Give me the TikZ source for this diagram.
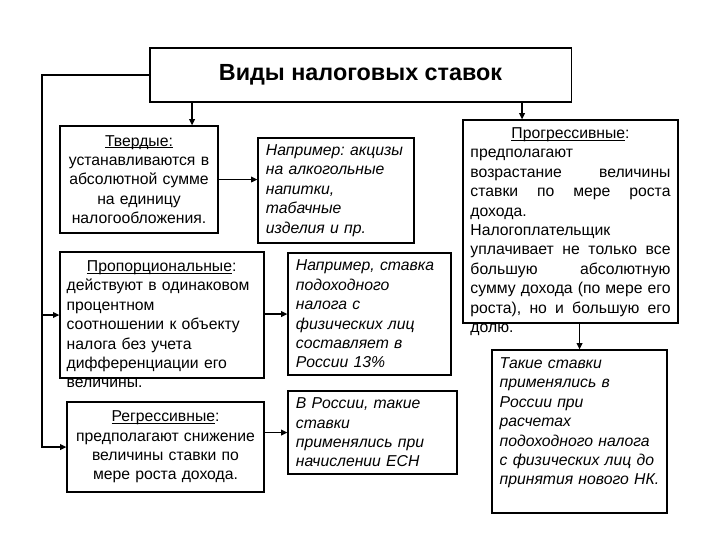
\documentclass[tikz,border=0pt]{standalone}
\usepackage{fontspec}
\setmainfont{Liberation Sans}
\usetikzlibrary{arrows.meta,positioning}
\hyphenpenalty=10000
\exhyphenpenalty=10000
\frenchspacing
\definecolor{ink}{RGB}{0,0,0}
\newcommand{\cardfont}{\fontsize{11.2}{13.8}\selectfont}
\newcommand{\uln}[1]{\setbox0\hbox{#1}\rlap{\rule[-1.6pt]{\wd0}{0.6pt}}\box0}
\newcommand{\headline}[1]{\hbox to\hsize{\hfil\uln{#1}:\hfil}\par}
\tikzset{
  >={Triangle[length=4.5pt,width=4pt]},
  card/.style={draw=ink,fill=white,line width=0.8pt,inner xsep=0.2cm,inner ysep=0pt,
    text width=#1,font=\cardfont},
  frame/.style={draw=ink,fill=white,line width=0.8pt,inner sep=0pt},
  note/.style={inner sep=0pt,text width=#1,font=\cardfont},
  link/.style={->,draw=ink,line width=1.4pt},
}

\begin{document}
\begin{tikzpicture}[x=0.025cm,y=-0.025cm]
  \useasboundingbox (0,0) rectangle (720,540);
  % header
  \node[frame,minimum width=10.525cm,minimum height=1.35cm,
    font=\fontsize{16.6}{19}\selectfont\bfseries] (title) at (360.5,75) {Виды налоговых ставок};
  % left column
  \node[card=3.55cm,align=center,minimum height=2.675cm] (tverd) at (139,179.5)
    {\uln{Твердые:}\\ устанавливаются в\\ абсолютной сумме\\ на единицу\\ налогообложения.};
  \node[frame,minimum width=5.1cm,minimum height=3.15cm] (prop) at (162,315) {};
  \node[note=4.75cm,align=left,below right=0.225cm and 0.175cm of prop.north west] (proptext)
    {\headline{Пропорциональные}действуют в одинаковом\\ процентном\\ соотношении к объекту\\
     налога без учета\\ дифференциации его\\ величины.};
  \node[card=4.525cm,align=center,minimum height=2.25cm] (regr) at (165.5,447)
    {\uln{Регрессивные}:\\ предполагают снижение\\ величины ставки по\\ мере роста дохода.};
  % examples
  \node[card=3.5cm,align=left,minimum height=2.625cm,font=\cardfont\itshape] (ex1) at (336,190.5)
    {Например: акцизы\\ на алкогольные\\ напитки,\\ табачные\\ изделия и пр.};
  \node[card=3.675cm,align=left,minimum height=3.05cm,font=\cardfont\itshape] (ex2) at (369.5,314)
    {Например, ставка\\ подоходного\\ налога с\\ физических лиц\\ составляет в\\ России 13\%};
  \node[card=3.825cm,align=left,minimum height=2.075cm,font=\cardfont\itshape] (ex3) at (372.5,432.5)
    {В России, такие\\ ставки\\ применялись при\\ начислении ЕСН};
  % right column
  \node[frame,minimum width=5.375cm,minimum height=5.075cm] (progr) at (570.5,221.5) {};
  \node[note=5cm,align=justify,below=0.2cm of progr.north] (progrtext)
    {\headline{Прогрессивные}предполагают\\ возрастание величины\linebreak
     ставки по мере роста\linebreak дохода.\\ Налогоплательщик\\
     уплачивает не только все\linebreak большую абсолютную\linebreak
     сумму дохода (по мере его\linebreak роста), но и большую его\linebreak долю.};
  \node[frame,minimum width=4.375cm,minimum height=4.075cm] (final) at (579.5,431.5) {};
  \node[note=4.15cm,align=left,font=\cardfont\itshape,below right=0.2cm and 0.2cm of final.north west] (finaltext)
    {Такие ставки\\ применялись в\\ России при\\ расчетах\\ подоходного налога\\
     с физических лиц до\\ принятия нового НК.};
  % connectors
  \coordinate (lft) at (42,75);
  \coordinate (t1) at (192,102);
  \coordinate (t2) at (522,102);
  \draw[link] (title.west) -- (lft) |- (regr.west);
  \draw[link] (lft |- prop.west) -- (prop.west);
  \draw[link] (t1) -- (t1 |- tverd.north);
  \draw[link] (t2) -- (t2 |- progr.north);
  \draw[link] (tverd.east) -- (tverd.east -| ex1.west);
  \draw[link] (ex2.west -| prop.east) -- (ex2.west);
  \draw[link] (ex3.west -| regr.east) -- (ex3.west);
  \draw[link] (progr.south -| final.north) -- (final.north);
\end{tikzpicture}
\end{document}
